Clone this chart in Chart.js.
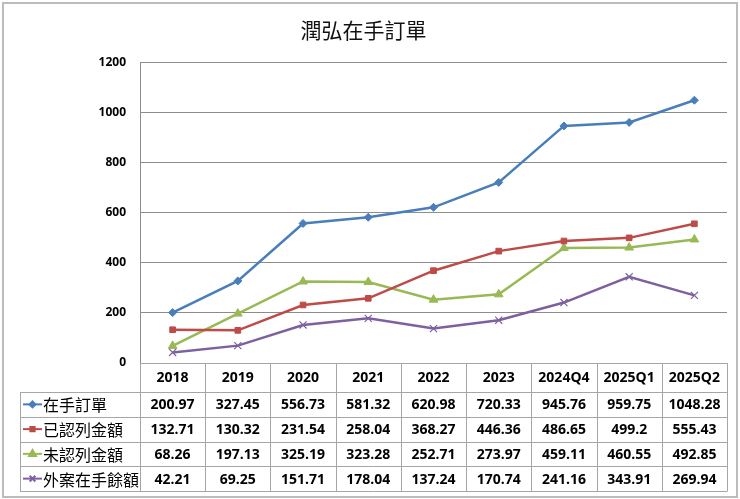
<!DOCTYPE html>
<html>
<head>
<meta charset="utf-8">
<script src="https://cdn.jsdelivr.net/npm/chart.js@4"></script>
<style>
  html, body { margin: 0; padding: 0; background: #fff; }
</style>
</head>
<body>
<canvas id="myChart" width="740" height="499"></canvas>
<script>
const categories = ['2018', '2019', '2020', '2021', '2022', '2023', '2024Q4', '2025Q1', '2025Q2'];
const orderBacklog = [200.97, 327.45, 556.73, 581.32, 620.98, 720.33, 945.76, 959.75, 1048.28];
const recognized = [132.71, 130.32, 231.54, 258.04, 368.27, 446.36, 486.65, 499.2, 555.43];
const unrecognized = [68.26, 197.13, 325.19, 323.28, 252.71, 273.97, 459.11, 460.55, 492.85];
const outsideBacklog = [42.21, 69.25, 151.71, 178.04, 137.24, 170.74, 241.16, 343.91, 269.94];
const seriesNames = ['在手訂單', '已認列金額', '未認列金額', '外案在手餘額'];
const yMin = 0, yMax = 1200, yStep = 200;

// Series styles
const colors = ['#4A7EBB', '#BE4B48', '#98B954', '#7D60A0'];
const markers = ['rectRot', 'rect', 'triangle', 'crossRot'];
const markerSizes = [4, 4, 5, 5];
const seriesData = [orderBacklog, recognized, unrecognized, outsideBacklog];

// Draws the Excel-style data table under the plot
const dataTable = {
    id: 'dataTable',
    afterDraw(chart) {
        const ctx = chart.ctx;
        const area = chart.chartArea;
        const xScale = chart.scales.x;
        const n = categories.length;
        const colW = (area.right - area.left) / n;
        const headTop = area.bottom;
        const rowTop = 392;
        const rowH = 24.75;
        const tableBottom = rowTop + rowH * seriesNames.length;
        const keyLeft = 20;

        ctx.save();

        // outer chart frame
        ctx.strokeStyle = '#bcbcbc';
        ctx.lineWidth = 2;
        ctx.strokeRect(3, 3, 734, 494);

        ctx.strokeStyle = '#a6a6a6';
        ctx.lineWidth = 1;
        ctx.beginPath();
        // header row top
        ctx.moveTo(area.left, Math.round(headTop) + 0.5);
        ctx.lineTo(area.right, Math.round(headTop) + 0.5);
        // row lines
        for (let r = 0; r <= seriesNames.length; r++) {
            const y = Math.round(rowTop + r * rowH) + 0.5;
            ctx.moveTo(keyLeft, y);
            ctx.lineTo(area.right, y);
        }
        // column lines
        for (let i = 0; i <= n; i++) {
            const x = Math.round(area.left + i * colW) + 0.5;
            ctx.moveTo(x, headTop);
            ctx.lineTo(x, Math.round(tableBottom) + 0.5);
        }
        ctx.moveTo(keyLeft + 0.5, rowTop);
        ctx.lineTo(keyLeft + 0.5, Math.round(tableBottom) + 0.5);
        ctx.stroke();

        // header labels
        ctx.fillStyle = '#000';
        ctx.textAlign = 'center';
        ctx.textBaseline = 'middle';
        ctx.font = 'bold 14px "Open Sans"';
        categories.forEach((c, i) => {
            ctx.fillText(c, xScale.getPixelForValue(i), (headTop + rowTop) / 2 + 1);
        });

        // values
        seriesData.forEach((vals, r) => {
            const cy = rowTop + r * rowH + rowH / 2 + 1;
            vals.forEach((v, i) => {
                ctx.fillText(String(v), xScale.getPixelForValue(i), cy);
            });
        });

        // legend keys + names
        seriesNames.forEach((name, r) => {
            const cy = rowTop + r * rowH + rowH / 2;
            ctx.strokeStyle = colors[r];
            ctx.lineWidth = 2;
            ctx.beginPath();
            ctx.moveTo(23, cy);
            ctx.lineTo(42, cy);
            ctx.stroke();
            Chart.helpers.drawPoint(ctx, {
                pointStyle: markers[r],
                radius: markerSizes[r] - 1,
                borderWidth: 1
            }, 32.5, cy);
            ctx.fillStyle = colors[r];
            ctx.fill();
            ctx.fillStyle = '#000';
            ctx.textAlign = 'left';
            ctx.font = '16px "Noto Sans CJK TC"';
            ctx.fillText(name, 43, cy + 1);
        });

        ctx.restore();
    }
};

document.addEventListener('DOMContentLoaded', function () {
    const ctx = document.getElementById('myChart').getContext('2d');
    new Chart(ctx, {
        type: 'line',
        data: {
            labels: categories,
            datasets: seriesData.map((vals, i) => ({
                label: seriesNames[i],
                data: vals,
                borderColor: colors[i],
                backgroundColor: colors[i],
                borderWidth: 2.5,
                pointStyle: markers[i],
                pointRadius: markerSizes[i],
                pointBorderWidth: i === 3 ? 1.2 : 1,
                tension: 0,
                fill: false
            }))
        },
        options: {
            responsive: false,
            animation: false,
            devicePixelRatio: 1,
            layout: { padding: { top: 0, right: 13, bottom: 136, left: 0 } },
            plugins: {
                legend: { display: false },
                tooltip: { enabled: false },
                title: {
                    display: true,
                    text: '潤弘在手訂單',
                    color: '#111',
                    font: { family: '"Noto Sans CJK TC"', size: 21, weight: 'normal' },
                    padding: { top: 17, bottom: 20 }
                }
            },
            scales: {
                x: {
                    display: false,
                    offset: true
                },
                y: {
                    min: yMin,
                    max: yMax,
                    ticks: {
                        stepSize: yStep,
                        padding: 14,
                        color: '#000',
                        font: { family: '"Open Sans"', size: 12, weight: 'bold' },
                        callback: value => String(value)
                    },
                    grid: { color: '#8c8c8c', drawTicks: false },
                    border: { color: '#8c8c8c' },
                    afterFit(scale) { scale.width = 140; }
                }
            }
        },
        plugins: [dataTable]
    });
});
</script>
</body>
</html>
